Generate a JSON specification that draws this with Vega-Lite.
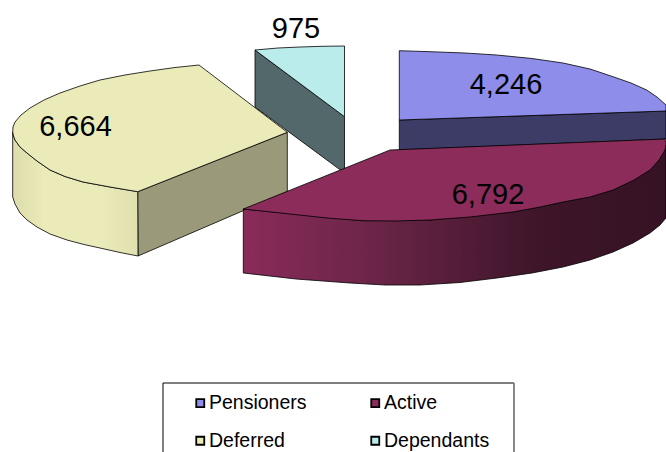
{"$schema":"https://vega.github.io/schema/vega-lite/v6.json","width":666,"height":452,"padding":0,"autosize":"none","background":"white","config":{"view":{"stroke":null}},
"datasets":{
"depSide":[{"i":1,"x":255,"y":50},{"i":2,"x":344.5,"y":116.7},{"i":3,"x":344.5,"y":173},{"i":4,"x":255,"y":107},{"i":5,"x":255,"y":50}],
"penSide":[{"i":1,"x":399.3,"y":120},{"i":2,"x":666,"y":111},{"i":3,"x":666,"y":139},{"i":4,"x":399.3,"y":150},{"i":5,"x":399.3,"y":120}],
"defSide":[{"i":1,"x":137.7,"y":191.7},{"i":2,"x":287.3,"y":132.3},{"i":3,"x":287.3,"y":191.7},{"i":4,"x":138,"y":256},{"i":5,"x":137.7,"y":191.7}],
"defWall":[{"i":1,"x":12.7,"y":132},{"i":2,"x":12.7,"y":197},{"i":3,"x":15,"y":204},{"i":4,"x":20,"y":213},{"i":5,"x":27,"y":220},{"i":6,"x":37,"y":227},{"i":7,"x":50,"y":234},{"i":8,"x":67,"y":240},{"i":9,"x":84,"y":244.5},{"i":10,"x":100,"y":248},{"i":11,"x":120,"y":252.5},{"i":12,"x":138,"y":256},{"i":13,"x":137.7,"y":191.7},{"i":14,"x":110,"y":187},{"i":15,"x":83,"y":182},{"i":16,"x":65,"y":176.5},{"i":17,"x":50,"y":170},{"i":18,"x":37,"y":161},{"i":19,"x":27,"y":153},{"i":20,"x":20,"y":147},{"i":21,"x":15,"y":140},{"i":22,"x":13.5,"y":136},{"i":23,"x":12.7,"y":132}],
"actWall":[{"i":1,"x":243.3,"y":209},{"i":2,"x":243.3,"y":273},{"i":3,"x":296,"y":279},{"i":4,"x":350,"y":283},{"i":5,"x":385,"y":285},{"i":6,"x":420,"y":285},{"i":7,"x":460,"y":282.5},{"i":8,"x":497,"y":278},{"i":9,"x":532,"y":273},{"i":10,"x":563,"y":267},{"i":11,"x":590,"y":260},{"i":12,"x":613,"y":252},{"i":13,"x":633,"y":243},{"i":14,"x":650,"y":233},{"i":15,"x":660,"y":225},{"i":16,"x":666,"y":218},{"i":17,"x":666,"y":145},{"i":18,"x":659,"y":160},{"i":19,"x":650,"y":170},{"i":20,"x":613,"y":190},{"i":21,"x":563,"y":202},{"i":22,"x":513,"y":212},{"i":23,"x":430,"y":220},{"i":24,"x":363,"y":220.7},{"i":25,"x":243.3,"y":209}],
"frame":[{"x":163,"x2":514,"y":383,"y2":475}],
"tops":[
{"c":"Dependants","i":1,"x":255,"y":50},{"c":"Dependants","i":2,"x":278,"y":48},{"c":"Dependants","i":3,"x":300,"y":47},{"c":"Dependants","i":4,"x":322,"y":46.3},{"c":"Dependants","i":5,"x":344.5,"y":46},{"c":"Dependants","i":6,"x":344.5,"y":116.7},{"c":"Dependants","i":7,"x":255,"y":50},
{"c":"Pensioners","i":1,"x":399.3,"y":50.7},{"c":"Pensioners","i":2,"x":430,"y":51.7},{"c":"Pensioners","i":3,"x":465,"y":53},{"c":"Pensioners","i":4,"x":496.7,"y":55},{"c":"Pensioners","i":5,"x":532,"y":58.5},{"c":"Pensioners","i":6,"x":563,"y":63},{"c":"Pensioners","i":7,"x":590,"y":69},{"c":"Pensioners","i":8,"x":613,"y":76.7},{"c":"Pensioners","i":9,"x":631,"y":83},{"c":"Pensioners","i":10,"x":646.7,"y":90},{"c":"Pensioners","i":11,"x":657,"y":97},{"c":"Pensioners","i":12,"x":666,"y":105},{"c":"Pensioners","i":13,"x":666,"y":111},{"c":"Pensioners","i":14,"x":399.3,"y":120},{"c":"Pensioners","i":15,"x":399.3,"y":50.7},
{"c":"Deferred","i":1,"x":199,"y":65},{"c":"Deferred","i":2,"x":287.3,"y":132.3},{"c":"Deferred","i":3,"x":137.7,"y":191.7},{"c":"Deferred","i":4,"x":110,"y":187},{"c":"Deferred","i":5,"x":83,"y":182},{"c":"Deferred","i":6,"x":65,"y":176.5},{"c":"Deferred","i":7,"x":50,"y":170},{"c":"Deferred","i":8,"x":37,"y":161},{"c":"Deferred","i":9,"x":27,"y":153},{"c":"Deferred","i":10,"x":20,"y":147},{"c":"Deferred","i":11,"x":15,"y":140},{"c":"Deferred","i":12,"x":13.5,"y":136},{"c":"Deferred","i":13,"x":12.7,"y":132},{"c":"Deferred","i":14,"x":13,"y":127},{"c":"Deferred","i":15,"x":15,"y":122},{"c":"Deferred","i":16,"x":21,"y":115},{"c":"Deferred","i":17,"x":30,"y":108},{"c":"Deferred","i":18,"x":44,"y":100},{"c":"Deferred","i":19,"x":60,"y":93},{"c":"Deferred","i":20,"x":80,"y":86},{"c":"Deferred","i":21,"x":100,"y":80},{"c":"Deferred","i":22,"x":125,"y":75},{"c":"Deferred","i":23,"x":150,"y":71},{"c":"Deferred","i":24,"x":175,"y":67.5},{"c":"Deferred","i":25,"x":199,"y":65},
{"c":"Active","i":1,"x":390,"y":150},{"c":"Active","i":2,"x":665,"y":139},{"c":"Active","i":3,"x":666,"y":144},{"c":"Active","i":4,"x":665,"y":150},{"c":"Active","i":5,"x":659,"y":160},{"c":"Active","i":6,"x":650,"y":170},{"c":"Active","i":7,"x":634,"y":180},{"c":"Active","i":8,"x":613,"y":190},{"c":"Active","i":9,"x":590,"y":197},{"c":"Active","i":10,"x":563,"y":202},{"c":"Active","i":11,"x":540,"y":207},{"c":"Active","i":12,"x":513,"y":212},{"c":"Active","i":13,"x":470,"y":217},{"c":"Active","i":14,"x":430,"y":220},{"c":"Active","i":15,"x":395,"y":221},{"c":"Active","i":16,"x":363,"y":220.7},{"c":"Active","i":17,"x":330,"y":218.3},{"c":"Active","i":18,"x":243.3,"y":209},{"c":"Active","i":19,"x":390,"y":150}],
"labels":[{"t":"975","x":296,"y":38},{"t":"4,246","x":506,"y":94},{"t":"6,664","x":75.5,"y":136},{"t":"6,792","x":488,"y":204}]
},
"encoding":{"x":{"field":"x","type":"quantitative","axis":null,"scale":{"domain":[0,666],"nice":false,"zero":false}},"y":{"field":"y","type":"quantitative","axis":null,"scale":{"domain":[0,452],"range":[0,452],"nice":false,"zero":false}}},
"layer":[
{"data":{"name":"depSide"},"mark":{"type":"line","filled":true,"fill":"#52686a","stroke":"black","strokeWidth":0.8},"encoding":{"order":{"field":"i","type":"quantitative"}}},
{"data":{"name":"penSide"},"mark":{"type":"line","filled":true,"fill":"#3c3c66","stroke":"black","strokeWidth":0.8},"encoding":{"order":{"field":"i","type":"quantitative"}}},
{"data":{"name":"defSide"},"mark":{"type":"line","filled":true,"fill":"#9a9a7a","stroke":"black","strokeWidth":0.8},"encoding":{"order":{"field":"i","type":"quantitative"}}},
{"data":{"name":"defWall"},"mark":{"type":"line","filled":true,"fill":{"gradient":"linear","x1":0,"y1":0,"x2":1,"y2":0,"stops":[{"offset":0,"color":"#dcdcac"},{"offset":0.25,"color":"#ebebb9"},{"offset":0.7,"color":"#ebebb9"},{"offset":1,"color":"#e0e0b0"}]},"stroke":"black","strokeWidth":0.8},"encoding":{"order":{"field":"i","type":"quantitative"}}},
{"data":{"name":"actWall"},"mark":{"type":"line","filled":true,"fill":{"gradient":"linear","x1":0,"y1":0,"x2":1,"y2":0,"stops":[{"offset":0,"color":"#892b59"},{"offset":0.3,"color":"#6c2548"},{"offset":0.7,"color":"#3e1529"},{"offset":1,"color":"#351224"}]},"stroke":"black","strokeWidth":0.8},"encoding":{"order":{"field":"i","type":"quantitative"}}},
{"data":{"name":"tops"},"mark":{"type":"line","filled":true,"stroke":"black","strokeWidth":0.8},"encoding":{"order":{"field":"i","type":"quantitative"},"detail":{"field":"c"},"color":{"field":"c","type":"nominal","scale":{"domain":["Pensioners","Active","Deferred","Dependants"],"range":["#8e8eea","#8b2c5a","#ebebb9","#bbecec"]},"legend":{"title":null,"orient":"none","direction":"horizontal","legendX":163,"legendY":383,"columns":2,"symbolType":"square","symbolSize":64,"symbolStrokeColor":"black","symbolStrokeWidth":1.8,"symbolOpacity":1,"labelFont":"Liberation Sans","labelFontSize":19.5,"labelColor":"black","labelOffset":-1,"padding":10,"rowPadding":17,"columnPadding":41,"symbolOffset":17.5}}}},
{"data":{"name":"labels"},"mark":{"type":"text","font":"Liberation Sans","fontSize":29,"color":"black","align":"center","baseline":"alphabetic"},"encoding":{"text":{"field":"t"}}},
{"data":{"name":"frame"},"mark":{"type":"rect","fill":null,"stroke":"black","strokeWidth":1},"encoding":{"x2":{"field":"x2"},"y2":{"field":"y2"}}},
{"data":{"name":"frame"},"mark":{"type":"rule","stroke":"#8c8c8c","strokeWidth":1.5},"encoding":{"x":{"field":"x2","type":"quantitative","scale":{"domain":[0,666],"nice":false,"zero":false}},"y":{"field":"y","type":"quantitative"},"y2":{"field":"y2"}}}
]}
